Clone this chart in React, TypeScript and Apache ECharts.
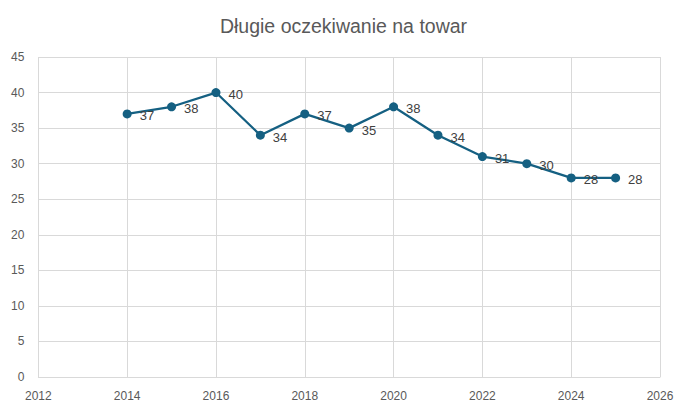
import React, { useEffect, useRef } from "react";
import * as echarts from "echarts";

const years = [2014, 2015, 2016, 2017, 2018, 2019, 2020, 2021, 2022, 2023, 2024, 2025];
const values = [37, 38, 40, 34, 37, 35, 38, 34, 31, 30, 28, 28];
const title = "Długie oczekiwanie na towar";

export default function App() {
  const ref = useRef<HTMLDivElement>(null);
  useEffect(() => {
    if (!ref.current) return;
    const chart = echarts.init(ref.current, null, { renderer: "svg" });
    const font = "'Liberation Sans', Arial, sans-serif";
    chart.setOption({
      animation: false,
      title: {
        text: title,
        left: "center",
        top: 3,
        textStyle: { color: "#595959", fontSize: 19.5, fontWeight: "normal", fontFamily: font },
      },
      grid: { left: 29, right: 19, top: 49, bottom: 26 },
      xAxis: {
        type: "value",
        min: 2012,
        max: 2026,
        interval: 2,
        axisLine: { show: true, lineStyle: { color: "#d9d9d9" } },
        axisTick: { show: false },
        splitLine: { show: true, lineStyle: { color: "#d9d9d9" } },
        axisLabel: {
          color: "#595959",
          fontSize: 12,
          fontFamily: font,
          margin: 13,
          formatter: (v: number) => String(v),
        },
      },
      yAxis: {
        type: "value",
        min: 0,
        max: 45,
        interval: 5,
        axisLine: { show: false },
        axisTick: { show: false },
        splitLine: { show: true, lineStyle: { color: "#d9d9d9" } },
        axisLabel: { color: "#595959", fontSize: 12, fontFamily: font, margin: 14 },
      },
      series: [
        {
          type: "line",
          data: years.map((y, i) => [y, values[i]]),
          symbol: "circle",
          symbolSize: 9,
          lineStyle: { color: "#156082", width: 2.25 },
          itemStyle: { color: "#156082" },
          label: {
            show: true,
            position: "right",
            distance: 8,
            offset: [0, 2],
            color: "#404040",
            fontSize: 13,
            fontFamily: font,
            formatter: (p: any) => String(p.value[1]),
          },
        },
      ],
    });
    return () => chart.dispose();
  }, []);
  return <div ref={ref} style={{ width: 671, height: 395 }} />;
}
